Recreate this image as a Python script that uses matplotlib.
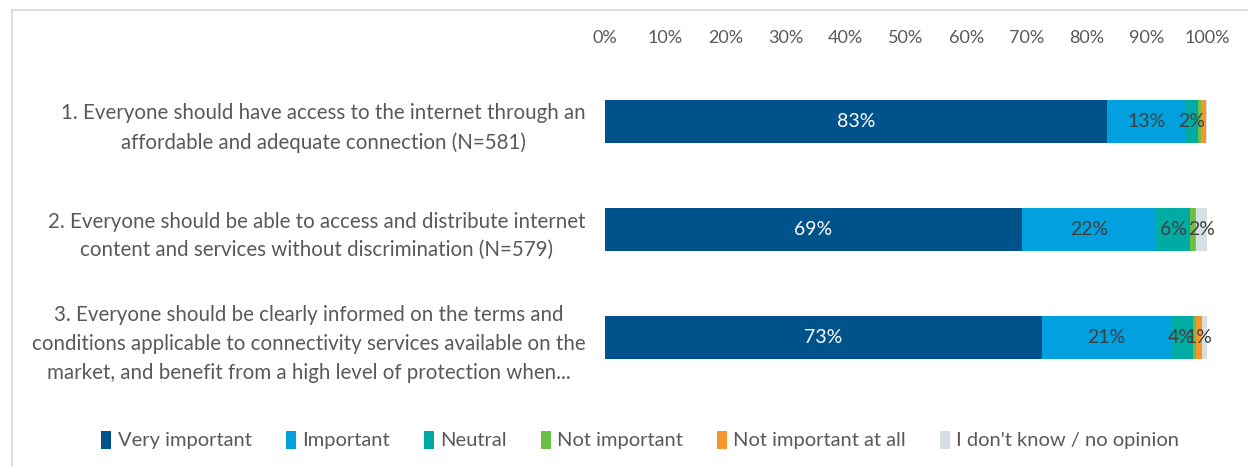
import matplotlib.pyplot as plt
from matplotlib.patches import Rectangle

plt.rcParams['font.family'] = ['Lato', 'DejaVu Sans']

# Data (share of respondents, %)
questions = [
    "1. Everyone should have access to the internet through an\naffordable and adequate connection (N=581)",
    "2. Everyone should be able to access and distribute internet\ncontent and services without discrimination (N=579)",
    "3. Everyone should be clearly informed on the terms and\nconditions applicable to connectivity services available on the\nmarket, and benefit from a high level of protection when...",
]
answers = ['Very important', 'Important', 'Neutral', 'Not important',
           'Not important at all', "I don't know / no opinion"]
very_important = [83.4, 69.2, 72.6]
important = [13.0, 22.4, 21.4]
neutral = [2.1, 5.6, 3.6]
not_important = [0.5, 0.8, 0.5]
not_at_all = [0.8, 0.1, 1.0]
no_opinion = [0.2, 1.9, 0.9]
ticks = [0, 10, 20, 30, 40, 50, 60, 70, 80, 90, 100]

series = [very_important, important, neutral, not_important, not_at_all, no_opinion]
colors = ['#00538a', '#00a1de', '#00aba3', '#6bbf45', '#f5962d', '#d8dfe3']
text_colors = ['white', '#404040', '#404040', '#404040', '#404040', '#404040']

fig = plt.figure(figsize=(12.48, 4.67), dpi=100)
ax = fig.add_axes([605 / 1248, 1 - 402 / 467, 602 / 1248, 345 / 467])

# light frame around the chart area
fig.patches.append(Rectangle((12 / 1248, -0.05), 1.1, 1 - 10 / 467 + 0.05,
                             transform=fig.transFigure, fill=False,
                             edgecolor='#d9d9d9', linewidth=1.2))

ypos = list(range(len(questions)))
left = [0.0] * len(questions)
for vals, name, col, tcol in zip(series, answers, colors, text_colors):
    bars = ax.barh(ypos, vals, left=left, height=0.4, color=col, label=name)
    for b, v in zip(bars, vals):
        if v >= 1.0:
            ax.text(b.get_x() + b.get_width() / 2, b.get_y() + b.get_height() / 2,
                    f"{v:.0f}%", ha='center', va='center', color=tcol, fontsize=14)
    left = [l + v for l, v in zip(left, vals)]

ax.set_xlim(0, 100)
ax.set_ylim(2.6, -0.6)
ax.set_xticks(ticks)
ax.set_xticklabels([f"{t}%" for t in ticks], color='#595959', fontsize=13)
ax.xaxis.tick_top()
ax.set_yticks(ypos)
ax.set_yticklabels(questions, color='#595959', fontsize=14.8,
                   multialignment='center', linespacing=1.55)
ax.tick_params(axis='both', length=0)
ax.tick_params(axis='y', pad=14)
ax.tick_params(axis='x', pad=8)
for s in ax.spines.values():
    s.set_visible(False)

fig.legend(loc='center', bbox_to_anchor=(0.513, 1 - 440 / 467), ncol=6,
           frameon=False, fontsize=14.5, handlelength=0.5, handleheight=1.0,
           handletextpad=0.3, columnspacing=1.7, labelcolor='#595959')

plt.savefig('out.png', dpi=100)
